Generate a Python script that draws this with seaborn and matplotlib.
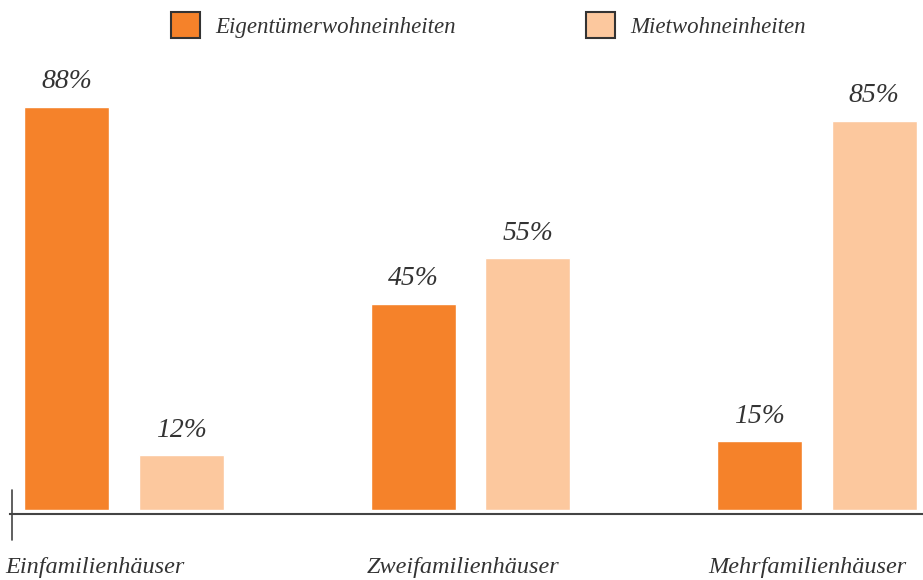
import matplotlib
matplotlib.use('Agg')
import matplotlib.pyplot as plt
from matplotlib.patches import Patch
from matplotlib.lines import Line2D
import seaborn as sns
import pandas as pd

# data
categories = ['Einfamilienhäuser', 'Zweifamilienhäuser', 'Mehrfamilienhäuser']
series_names = ['Eigentümerwohneinheiten', 'Mietwohneinheiten']
owner_share = [88, 45, 15]
rent_share = [12, 55, 85]
colors = ['#F5822A', '#FCC89E']

# horizontal shift of each category label (in category units)
label_offsets = [-0.343, -0.300, -0.315]

df = pd.DataFrame({
  'kategorie': categories * 2,
  'serie': [series_names[0]] * 3 + [series_names[1]] * 3,
  'anteil': owner_share + rent_share,
})

sns.set_style('white')
plt.rcParams['font.family'] = ['Liberation Serif', 'DejaVu Serif']
text_color = '#333333'

fig = plt.figure(figsize=(9.23, 5.8), dpi=100)
ax = fig.add_axes([10 / 923, 66 / 580, 913 / 923, 462 / 580])

sns.barplot(data=df, x='kategorie', y='anteil', hue='serie', palette=colors,
            order=categories, hue_order=series_names,
            width=0.661, gap=0.258, saturation=1, legend=False, ax=ax)

ax.set_xlim(-0.329, 2.306)
ax.set_ylim(-0.87, 100)

# value labels
for cont in ax.containers:
  labels = [f'{v:.0f}%' for v in cont.datavalues]
  ax.bar_label(cont, labels=labels, padding=9, fontsize=20, style='italic',
               color=text_color)

# category labels below the axis
for i, cat in enumerate(categories):
  ax.text(i + label_offsets[i], -0.115, cat, transform=ax.get_xaxis_transform(),
          ha='left', va='center', fontsize=17.5, style='italic', color=text_color)

ax.set_xticks([])
ax.set_yticks([])
ax.set_xlabel('')
ax.set_ylabel('')
for side in ['top', 'right', 'left']:
  ax.spines[side].set_visible(False)
ax.spines['bottom'].set_color('#444444')
ax.spines['bottom'].set_linewidth(1.5)

# small vertical mark at the left end of the axis
fig.add_artist(Line2D([12 / 923, 12 / 923], [1 - 490 / 580, 1 - 540 / 580],
                      color='#444444', lw=1.2))

handles = [Patch(facecolor=c, edgecolor='#333333', linewidth=1.5) for c in colors]
fig.legend(handles, series_names, loc='center left',
           bbox_to_anchor=(171 / 923, 1 - 25 / 580), ncol=2, frameon=False,
           borderpad=0, borderaxespad=0, handlelength=1.27, handleheight=1.31,
           handletextpad=0.65, columnspacing=5.7,
           prop={'size': 16.5, 'style': 'italic'}, labelcolor=text_color)

fig.savefig('out.png', dpi=100)
